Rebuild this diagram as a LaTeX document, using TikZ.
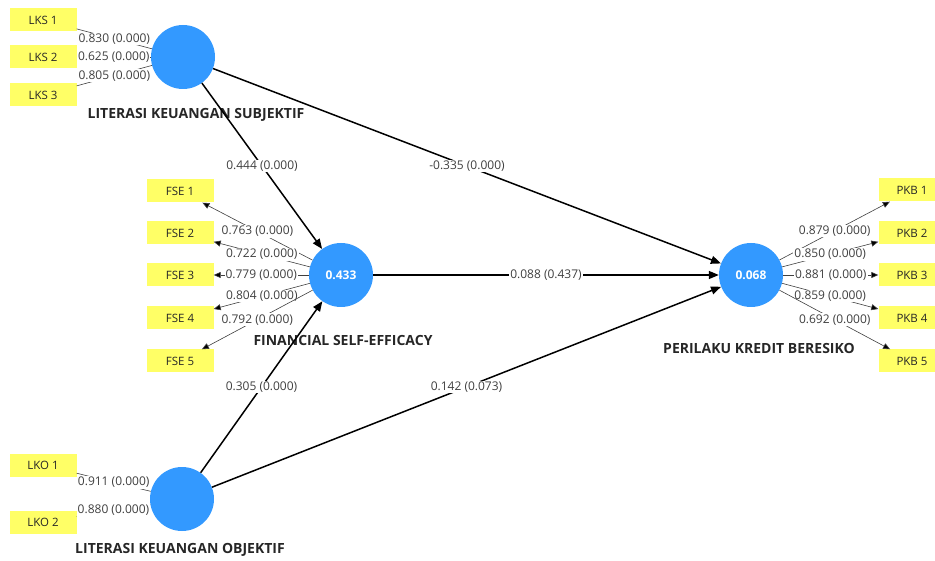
\documentclass[tikz,border=0pt]{standalone}
\usepackage{fontspec}
\setmainfont{Open Sans}
\usetikzlibrary{arrows.meta}
\definecolor{latentblue}{RGB}{51,153,255}
\definecolor{indicyellow}{RGB}{255,255,102}
\definecolor{coefgray}{RGB}{64,64,64}
\tikzset{
  lv/.style={circle, fill=latentblue, minimum size=64pt, inner sep=0pt, text=white,
             font=\fontsize{12}{14}\selectfont\bfseries},
  mv/.style={rectangle, fill=indicyellow, minimum width=67pt, minimum height=23pt,
             inner sep=0pt, text=black!85, font=\fontsize{11.5}{13}\selectfont},
  lvname/.style={text=black!85, font=\fontsize{14}{16}\selectfont\bfseries},
  coefl/.style={midway, fill=white, inner sep=1pt, text=coefgray, font=\fontsize{12}{14}\selectfont},
  outer/.style={draw=black!75, line width=0.6pt},
  inner/.style={draw=black, line width=1.5pt},
}
\begin{document}
\begin{tikzpicture}[x=1pt, y=-1pt]
  \useasboundingbox (0,0) rectangle (935,561);
  % latent variables
  \node[lv](LKS) at (183, 57) {};
  \node[lv](FSE) at (341,275) {0.433};
  \node[lv](PKB) at (751,275) {0.068};
  \node[lv](LKO) at (182,499) {};

  \node[lvname](LKSname) at (196,115) {LITERASI KEUANGAN SUBJEKTIF};
  \node[lvname](FSEname) at (343,341) {FINANCIAL SELF-EFFICACY};
  \node[lvname](PKBname) at (759,348) {PERILAKU KREDIT BERESIKO};
  \node[lvname](LKOname) at (180,550) {LITERASI KEUANGAN OBJEKTIF};

  % indicators
  \node[mv](LKS1) at ( 43, 20) {LKS 1};
  \node[mv](LKS2) at ( 43, 57) {LKS 2};
  \node[mv](LKS3) at ( 43, 95) {LKS 3};
  \node[mv](FSE1) at (180,191) {FSE 1};
  \node[mv](FSE2) at (180,233) {FSE 2};
  \node[mv](FSE3) at (180,275) {FSE 3};
  \node[mv](FSE4) at (180,318) {FSE 4};
  \node[mv](FSE5) at (180,361) {FSE 5};
  \node[mv](PKB1) at (912,190) {PKB 1};
  \node[mv](PKB2) at (912,233) {PKB 2};
  \node[mv](PKB3) at (912,275) {PKB 3};
  \node[mv](PKB4) at (912,318) {PKB 4};
  \node[mv](PKB5) at (912,361) {PKB 5};
  \node[mv](LKO1) at ( 43,465) {LKO 1};
  \node[mv](LKO2) at ( 43,522) {LKO 2};

  % outer model
  \draw[outer] (LKS) edge node[coefl]{0.830 (0.000)} (LKS1)
               (LKS) edge node[coefl]{0.625 (0.000)} (LKS2)
               (LKS) edge node[coefl]{0.805 (0.000)} (LKS3)
               (LKO) edge node[coefl]{0.911 (0.000)} (LKO1)
               (LKO) edge node[coefl]{0.880 (0.000)} (LKO2);
  \draw[outer, -{Triangle[length=7pt,width=6pt]}]
               (FSE) edge node[coefl]{0.763 (0.000)} (FSE1)
               (FSE) edge node[coefl]{0.722 (0.000)} (FSE2)
               (FSE) edge node[coefl]{0.779 (0.000)} (FSE3)
               (FSE) edge node[coefl]{0.804 (0.000)} (FSE4)
               (FSE) edge node[coefl]{0.792 (0.000)} (FSE5)
               (PKB) edge node[coefl]{0.879 (0.000)} (PKB1)
               (PKB) edge node[coefl]{0.850 (0.000)} (PKB2)
               (PKB) edge node[coefl]{0.881 (0.000)} (PKB3)
               (PKB) edge node[coefl]{0.859 (0.000)} (PKB4)
               (PKB) edge node[coefl]{0.692 (0.000)} (PKB5);

  % inner model
  \draw[inner, -{Triangle[length=10pt,width=8pt]}]
               (LKS) edge node[coefl]{0.444 (0.000)} (FSE)
               (LKS) edge node[coefl]{-0.335 (0.000)} (PKB)
               (FSE) edge node[coefl]{0.088 (0.437)} (PKB)
               (LKO) edge node[coefl]{0.305 (0.000)} (FSE)
               (LKO) edge node[coefl]{0.142 (0.073)} (PKB);
\end{tikzpicture}
\end{document}
